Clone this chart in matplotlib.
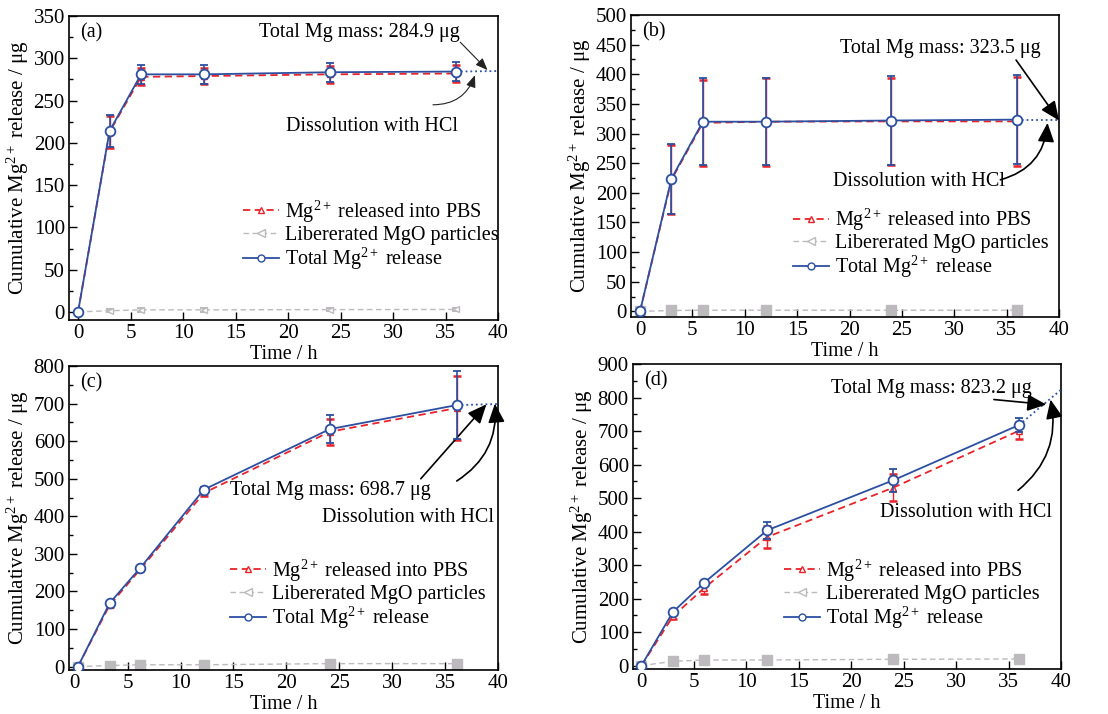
import matplotlib
matplotlib.use('Agg')
import matplotlib.pyplot as plt
from matplotlib.lines import Line2D
from matplotlib.ticker import MultipleLocator

plt.rcParams['font.family'] = ['Liberation Serif', 'DejaVu Serif']
plt.rcParams['mathtext.fontset'] = 'custom'
plt.rcParams['mathtext.rm'] = 'Liberation Serif'
plt.rcParams['mathtext.it'] = 'Liberation Serif:italic'
plt.rcParams['mathtext.default'] = 'regular'
plt.rcParams['font.size'] = 14.5

# sampling times (h)
time_abd = [0, 3, 6, 12, 24, 36]
time_c = [0.3, 3.3, 6.2, 12.2, 24.1, 36.1]

# (a)
pbs_a = [0, 213, 278, 279, 281, 282]
pbs_err_a = [0, 19, 10, 10, 10, 10]
mgo_a = [0, 1.5, 2.5, 2.5, 2.8, 3.0]
mgo_err_a = [0, 2, 2, 2, 2, 2]
tot_a = [0, 214, 281, 281, 283.5, 284.3]
tot_err_a = [0, 19, 11, 11, 11.5, 11.5]

# (b)
pbs_b = [0, 222, 318, 320, 320.5, 320.5]
pbs_err_b = [0, 58, 72, 74, 74, 75]
mgo_b = [0, 1.5, 2, 2, 2, 2]
mgo_err_b = [0, 1, 1, 1, 1, 1]
tot_b = [0, 224, 320, 320, 322, 323.5]
tot_err_b = [0, 59, 73, 73.5, 74.5, 74.5]

# (c)
pbs_c = [0, 164, 259, 462, 625, 688]
pbs_err_c = [0, 5, 5, 8, 34, 85]
mgo_c = [0, 3, 5, 5, 8, 8]
mgo_err_c = [0, 2, 2, 2, 2, 2]
tot_c = [0, 169, 263, 471, 632, 696]
tot_err_c = [0, 5, 5, 8, 38, 90]

# (d)
pbs_d = [0, 147, 232, 384, 531, 701]
pbs_err_d = [0, 8, 17, 32, 41, 25]
mgo_d = [0, 13, 17, 17, 19, 20]
mgo_err_d = [0, 3, 3, 3, 3, 3]
tot_d = [0, 160, 248, 404, 553, 718]
tot_err_d = [0, 5, 6, 25, 35, 20]

total_mass = [284.9, 323.5, 698.7, 823.2]
panel_tags = ['(a)', '(b)', '(c)', '(d)']

BLUE = '#2c4fa0'
RED = '#e8232b'
GRAY = '#bdbabd'


def draw_panel(ax, t, pbs, pbs_err, mgo, mgo_err, tot, tot_err, mass, tag,
               ymax, ystep, xmin, ymin, filled_gray):
    gfc = GRAY if filled_gray else 'white'
    gmk = 's' if filled_gray else '<'
    ax.errorbar(t, mgo, yerr=mgo_err, color=GRAY, ls=(0, (4, 2.5)), lw=1.0,
                marker=gmk, ms=7 if filled_gray else 5, mfc=gfc, mec=GRAY,
                capsize=3, capthick=1.5, elinewidth=1, zorder=2)
    ax.errorbar(t, pbs, yerr=pbs_err, color=RED, ls=(0, (4, 2.5)), lw=1.3,
                marker='^', ms=4, mfc='white', mec=RED,
                capsize=3, capthick=1.8, elinewidth=1, zorder=3)
    ax.errorbar(t, tot, yerr=tot_err, color=BLUE, ls='-', lw=1.3,
                marker='o', ms=7, mfc='white', mec=BLUE, mew=1.3,
                capsize=3, capthick=1.8, elinewidth=1.2, zorder=4)
    # extrapolation to the total Mg mass after HCl dissolution
    ax.plot([t[-1], 40], [tot[-1], mass], ':', color=BLUE, lw=1.3, zorder=3)

    ax.set_xlim(xmin, 40)
    ax.set_ylim(ymin, ymax)
    ax.xaxis.set_major_locator(MultipleLocator(5))
    ax.yaxis.set_major_locator(MultipleLocator(ystep))
    ax.yaxis.set_minor_locator(MultipleLocator(ystep / 2))
    ax.tick_params(axis='both', which='both', direction='in', top=False,
                   right=False, labelsize=15, pad=3)
    ax.tick_params(which='major', length=6, width=1)
    ax.tick_params(which='minor', length=3, width=1)
    for sp in ax.spines.values():
        sp.set_linewidth(1.2)
    ax.set_xlabel('Time / h', fontsize=14.5, labelpad=1)
    ax.set_ylabel('Cumulative $Mg^{2+}$ release / μg', fontsize=15,
                  labelpad=2)
    ax.text(0.025, 0.945, tag, transform=ax.transAxes, va='center',
            ha='left', fontsize=14.5)


fig = plt.figure(figsize=(11.08, 7.14), dpi=100)
ax_a = fig.add_axes([0.0623, 0.5518, 0.3872, 0.4258])
ax_b = fig.add_axes([0.5695, 0.556, 0.3863, 0.423])
ax_c = fig.add_axes([0.0623, 0.0616, 0.3872, 0.4258])
ax_d = fig.add_axes([0.5713, 0.063, 0.3863, 0.4272])

draw_panel(ax_a, time_abd, pbs_a, pbs_err_a, mgo_a, mgo_err_a, tot_a,
           tot_err_a, total_mass[0], panel_tags[0], 350, 50, -0.86, -9.5,
           False)
draw_panel(ax_b, time_abd, pbs_b, pbs_err_b, mgo_b, mgo_err_b, tot_b,
           tot_err_b, total_mass[1], panel_tags[1], 500, 50, -0.86, -9.5,
           True)
draw_panel(ax_c, time_c, pbs_c, pbs_err_c, mgo_c, mgo_err_c, tot_c,
           tot_err_c, total_mass[2], panel_tags[2], 800, 100, -0.54, -9,
           True)
draw_panel(ax_d, time_abd, pbs_d, pbs_err_d, mgo_d, mgo_err_d, tot_d,
           tot_err_d, total_mass[3], panel_tags[3], 900, 100, -0.8, -10,
           True)

# legends (proxy handles so every panel shows the same symbols)
handles = [
    Line2D([], [], color=RED, ls=(0, (4, 2.5)), lw=1.3, marker='^', ms=4,
           mfc='white', mec=RED),
    Line2D([], [], color=GRAY, ls=(0, (4, 2.5)), lw=1.0, marker='<', ms=6,
           mfc='white', mec=GRAY),
    Line2D([], [], color=BLUE, ls='-', lw=1.3, marker='o', ms=5,
           mfc='white', mec=BLUE),
]
labels = ['$Mg^{2+}$ released into PBS', 'Libererated MgO particles',
          'Total $Mg^{2+}$ release']
legend_pos = {ax_a: (0.405, 0.40), ax_b: (0.378, 0.365),
              ax_c: (0.375, 0.37), ax_d: (0.352, 0.366)}
for ax, pos in legend_pos.items():
    ax.legend(handles, labels, loc='upper left', bbox_to_anchor=pos,
              frameon=False, fontsize=14.5, borderpad=0, borderaxespad=0,
              handlelength=1.8, handletextpad=0.3, labelspacing=0.05)

thin = dict(arrowstyle='-|>,head_length=0.5,head_width=0.2', color='#222222',
            lw=0.8, shrinkA=0, shrinkB=0)
bold = dict(arrowstyle='-|>,head_length=0.8,head_width=0.35', color='black',
            lw=1.2, shrinkA=0, shrinkB=0)

# (a)
ax_a.text(36.4, 330, 'Total Mg mass: 284.9 μg', ha='right', va='center')
ax_a.annotate('', xy=(39.0, 286), xytext=(36.4, 319), arrowprops=thin)
ax_a.text(28, 219, 'Dissolution with HCl', ha='center', va='center')
ax_a.annotate('', xy=(37.8, 280), xytext=(33.8, 245),
              arrowprops=dict(thin, connectionstyle='arc3,rad=0.35'))

# (b)
ax_b.text(19.1, 444, 'Total Mg mass: 323.5 μg', ha='left', va='center')
ax_b.annotate('', xy=(40, 322), xytext=(35.9, 424), arrowprops=bold)
ax_b.text(18.4, 219, 'Dissolution with HCl', ha='left', va='center')
ax_b.annotate('', xy=(38.9, 318), xytext=(34.4, 222),
              arrowprops=dict(bold, connectionstyle='arc3,rad=0.35'))

# (c)
ax_c.text(14.65, 469, 'Total Mg mass: 698.7 μg', ha='left', va='center')
ax_c.annotate('', xy=(38.9, 698), xytext=(32.7, 500), arrowprops=bold)
ax_c.text(23.4, 398, 'Dissolution with HCl', ha='left', va='center')
ax_c.annotate('', xy=(39.7, 700), xytext=(36.1, 494),
              arrowprops=dict(bold, connectionstyle='arc3,rad=0.3'))

# (d)
ax_d.text(18.06, 827, 'Total Mg mass: 823.2 μg', ha='left', va='center')
ax_d.annotate('', xy=(38.6, 779), xytext=(33.6, 794), arrowprops=bold)
ax_d.text(22.7, 458, 'Dissolution with HCl', ha='left', va='center')
ax_d.annotate('', xy=(39.0, 794), xytext=(35.9, 523),
              arrowprops=dict(bold, connectionstyle='arc3,rad=0.3'))

fig.savefig('out.png', dpi=100)
